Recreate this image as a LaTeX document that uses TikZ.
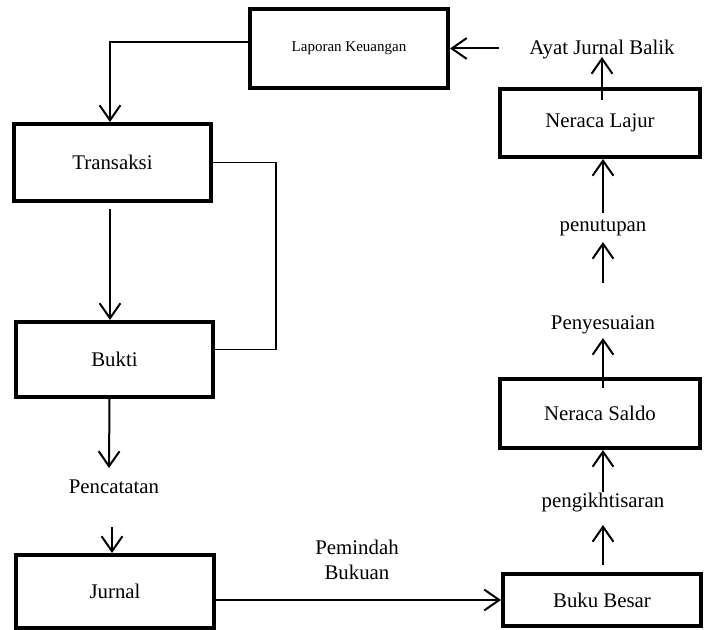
\documentclass[tikz,border=0pt]{standalone}
\usepackage{fontspec}
\setmainfont{Liberation Serif}
\usetikzlibrary{calc}
\usetikzlibrary{arrows.meta}
\tikzset{
  kotak/.style={draw, line width=2.4pt, inner sep=0pt, minimum width=118.8pt, font=\fontsize{12.5}{15}\selectfont},
  teks/.style={inner sep=0pt, font=\fontsize{12.5}{15}\selectfont},
  panah/.style={line width=1.2pt, ->, >={Straight Barb[length=9pt,width=12.5pt]}},
  garis/.style={line width=1pt}
}

\begin{document}
\begin{tikzpicture}[x=0.6pt, y=-0.6pt]
\useasboundingbox (0,0) rectangle (707,630);

\node[kotak, minimum height=47.4pt, font=\fontsize{9}{11}\selectfont] (lap) at (349,48.5) {Laporan Keuangan};
\node[kotak, minimum width=118.2pt, minimum height=46.2pt] (trans) at (112.5,162.5) {Transaksi};
\node[kotak, minimum width=118.2pt, minimum height=45pt] (bukti) at (114.5,359.5) {Bukti};
\node[kotak, minimum height=43.8pt] (jurnal) at (115,591.5) {Jurnal};
\node[kotak, minimum height=31.2pt] (buku) at (602,600) {Buku Besar};
\node[kotak, minimum width=120pt, minimum height=41.4pt] (saldo) at (600,413.5) {Neraca Saldo};
\node[kotak, minimum width=120pt, minimum height=40.8pt] (lajur) at (600,123) {Neraca Lajur};

\node[teks] (ayat) at (602,50) {Ayat Jurnal Balik};
\node[teks] (penut) at (603,228) {penutupan};
\node[teks] (penyes) at (603,325) {Penyesuaian};
\node[teks] (pengik) at (603,503) {pengikhtisaran};
\node[teks] (pencat) at (114,487) {Pencatatan};
\node[teks, align=center] (pindah) at (357,560) {Pemindah\\Bukuan};

% sisi kiri
\draw[panah] ($(lap.west)+(0,-6)$) -| ($(trans.north)+(-2.5,0)$);
\draw[panah] ($(trans.south)+(-2.5,6)$) -- ($(trans.south |- bukti.north)+(-2.5,0)$);
\draw[garis] (trans.east) -- ++(63,0) |- ($(bukti.east)+(0,-10)$);
\draw[panah] ($(bukti.south)+(-5,0)$) -- ($(pencat)+(-5,-19)$);
\draw[panah] ($(pencat)+(-2,40)$) -- ($(pencat |- jurnal.north)+(-2,0)$);
\draw[panah] (jurnal.east |- buku.west) -- (buku.west);

% sisi kanan
\draw[panah] ($(buku.north)+(1,-7)$) -- ($(pengik)+(0,22)$);
\draw[panah] ($(pengik)+(0,-11)$) -- (pengik |- saldo.south);
\draw[panah] ($(penyes |- saldo.north)+(0,11)$) -- ($(penyes)+(0,13)$);
\draw[panah] ($(penyes)+(0,-42)$) -- ($(penut)+(0,14)$);
\draw[panah] ($(penut)+(0,-15)$) -- (penut |- lajur.south);
\draw[panah] ($(ayat |- lajur.north)+(0,13)$) -- ($(ayat)+(0,7)$);
\draw[panah] ($(ayat.west |- lap.east)+(-30,0)$) -- (lap.east);
\end{tikzpicture}
\end{document}
